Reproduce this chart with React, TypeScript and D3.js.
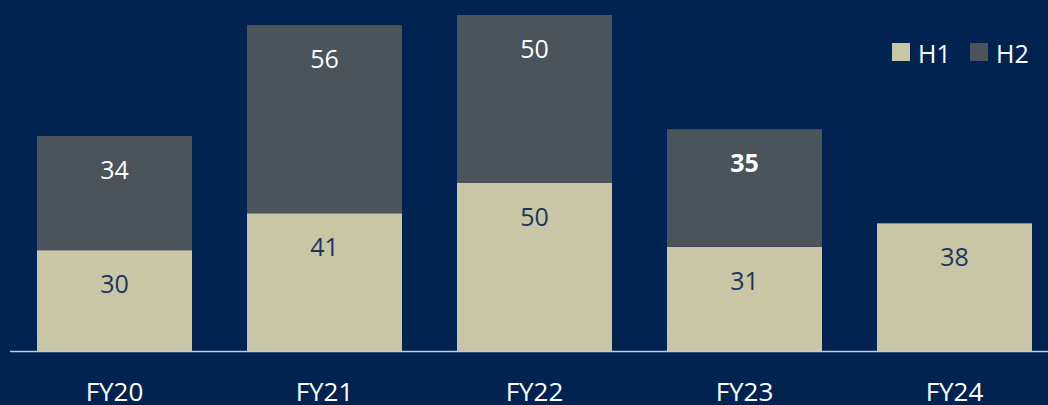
import React from "react";
import * as d3 from "d3";

const categories = ["FY20", "FY21", "FY22", "FY23", "FY24"];
const h1Values = [30, 41, 50, 31, 38];
const h2Values: (number | null)[] = [34, 56, 50, 35, null];
const boldH2 = [false, false, false, true, false];
const seriesNames = ["H1", "H2"];

const W = 1048;
const H = 405;
const BG = "#002352";
const C1 = "#c8c6a4";
const C2 = "#4b535b";
const FONT = "'Open Sans', 'Noto Sans', sans-serif";

export default function App() {
  const x = d3
    .scaleBand<string>()
    .domain(categories)
    .range([9.5, 1059.5])
    .paddingInner(55 / 210)
    .paddingOuter(27.5 / 210);
  const y = d3.scaleLinear().domain([0, 100]).range([351, 15]);
  const bw = x.bandwidth();

  return (
    <svg
      width={W}
      height={H}
      style={{ position: "absolute", left: 0, top: 0, background: BG }}
    >
      <rect x={0} y={0} width={W} height={H} fill={BG} />
      {categories.map((c, i) => {
        const x0 = x(c)!;
        const h1 = h1Values[i];
        const h2 = h2Values[i];
        const topH1 = y(h1);
        const topH2 = h2 != null ? y(h1 + h2) : null;
        return (
          <g key={c}>
            <rect x={x0} y={topH1} width={bw} height={y(0) - topH1} fill={C1} />
            <text
              x={x0 + bw / 2}
              y={topH1 + 33}
              textAnchor="middle"
              dominantBaseline="central"
              fill="#1c355e"
              fontFamily={FONT}
              fontSize={25}
            >
              {h1}
            </text>
            {h2 != null && topH2 != null && (
              <>
                <rect x={x0} y={topH2} width={bw} height={topH1 - topH2} fill={C2} />
                <text
                  x={x0 + bw / 2}
                  y={topH2 + 33}
                  textAnchor="middle"
                  dominantBaseline="central"
                  fill="#ffffff"
                  fontFamily={FONT}
                  fontSize={25}
                  fontWeight={boldH2[i] ? 700 : 400}
                >
                  {h2}
                </text>
              </>
            )}
            <text
              x={x0 + bw / 2}
              y={391}
              textAnchor="middle"
              dominantBaseline="central"
              fill="#ffffff"
              fontFamily={FONT}
              fontSize={26}
            >
              {c}
            </text>
          </g>
        );
      })}
      <line x1={10} x2={W} y1={351.5} y2={351.5} stroke="#c4cbd8" strokeWidth={1.5} />
      <g fontFamily={FONT} fontSize={25} fill="#ffffff">
        <rect x={892} y={43} width={18} height={18} fill={C1} />
        <text x={918} y={53} dominantBaseline="central">{seriesNames[0]}</text>
        <rect x={970} y={43} width={18} height={18} fill={C2} />
        <text x={996} y={53} dominantBaseline="central">{seriesNames[1]}</text>
      </g>
    </svg>
  );
}
